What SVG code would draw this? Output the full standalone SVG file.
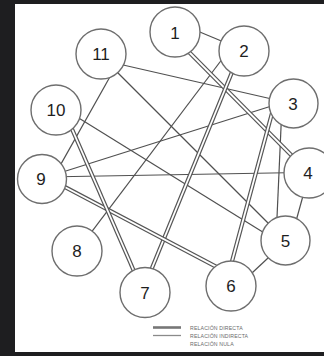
<svg xmlns="http://www.w3.org/2000/svg" width="324" height="356" viewBox="0 0 324 356">
<style>
.bg{fill:#1e1e20}
.panel{fill:#ffffff}
.s{stroke:#505050;stroke-width:1.2;fill:none;stroke-linecap:butt}
.d1{stroke:#555555;stroke-width:4.2;fill:none}
.d2{stroke:#ffffff;stroke-width:1.8;fill:none}
.node circle{fill:#ffffff;stroke:#6e6e6e;stroke-width:1.4}
.node text{font-family:"Liberation Sans",Arial,sans-serif;font-size:17px;fill:#1e1e1e;text-anchor:middle}
.leg{font-family:"Liberation Sans",Arial,sans-serif;font-size:5.2px;fill:#6a6a6a;letter-spacing:0.15px}
</style>
<rect class="bg" x="0" y="0" width="324" height="356"/>
<rect class="panel" x="15" y="4" width="309" height="348"/>
<g id="connectors">
  <!-- single relations -->
  <line class="s" x1="195" y1="30" x2="225" y2="42.5"/>
  <line class="s" x1="226" y1="54" x2="85" y2="240.6"/>
  <line class="s" x1="110" y1="62" x2="285" y2="102"/>
  <line class="s" x1="50" y1="176" x2="285" y2="101.7"/>
  <line class="s" x1="282" y1="105" x2="276" y2="240"/>
  <line class="s" x1="306" y1="185" x2="293" y2="232"/>
  <line class="s" x1="45" y1="177" x2="300" y2="172.5"/>
  <line class="s" x1="240" y1="284.3" x2="280" y2="246.7"/>
  <line class="s" x1="65" y1="109.4" x2="272" y2="237.7"/>
  <line class="s" x1="105" y1="60" x2="275" y2="230"/>
  <line class="s" x1="118" y1="62.5" x2="55" y2="174.6"/>
  <!-- double relations -->
  <g id="double">
    <line class="d1" x1="180" y1="43" x2="305" y2="169"/>
    <line class="d2" x1="180" y1="43" x2="305" y2="169"/>
    <line class="d1" x1="239" y1="55" x2="143" y2="290"/>
    <line class="d2" x1="239" y1="55" x2="143" y2="290"/>
    <line class="d1" x1="277.7" y1="92" x2="227.5" y2="278"/>
    <line class="d2" x1="277.7" y1="92" x2="227.5" y2="278"/>
    <line class="d1" x1="50" y1="179.2" x2="225" y2="271.4"/>
    <line class="d2" x1="50" y1="179.2" x2="225" y2="271.4"/>
    <line class="d1" x1="62" y1="106" x2="140" y2="285"/>
    <line class="d2" x1="62" y1="106" x2="140" y2="285"/>
  </g>
</g>
<g id="n1" class="node"><circle cx="175" cy="32" r="25"/><text x="175" y="38.5">1</text></g>
<g id="n2" class="node"><circle cx="244" cy="51" r="25"/><text x="244" y="57">2</text></g>
<g id="n3" class="node"><circle cx="293.5" cy="103.5" r="24.5"/><text x="293" y="109.5">3</text></g>
<g id="n4" class="node"><circle cx="309" cy="173" r="25"/><text x="308" y="179">4</text></g>
<g id="n5" class="node"><circle cx="285.5" cy="240.5" r="24.5"/><text x="285.5" y="246.5">5</text></g>
<g id="n6" class="node"><circle cx="231" cy="286" r="25"/><text x="231" y="292">6</text></g>
<g id="n7" class="node"><circle cx="145" cy="292.5" r="25"/><text x="145" y="298.5">7</text></g>
<g id="n8" class="node"><circle cx="77" cy="251" r="25"/><text x="77" y="257">8</text></g>
<g id="n9" class="node"><circle cx="42" cy="179" r="24.5"/><text x="41" y="185">9</text></g>
<g id="n10" class="node"><circle cx="56" cy="110" r="25"/><text x="56" y="116">10</text></g>
<g id="n11" class="node"><circle cx="101" cy="54" r="25"/><text x="101" y="60">11</text></g>
<g id="legend">
  <line x1="153" y1="327.5" x2="181" y2="327.5" stroke="#777777" stroke-width="2.6"/>
  <line x1="153" y1="335.5" x2="181" y2="335.5" stroke="#8a8a8a" stroke-width="1.3"/>
  <text class="leg" x="190" y="329.5">RELACIÓN DIRECTA</text>
  <text class="leg" x="190" y="337.5">RELACIÓN INDIRECTA</text>
  <text class="leg" x="190" y="346">RELACIÓN NULA</text>
</g>
</svg>
